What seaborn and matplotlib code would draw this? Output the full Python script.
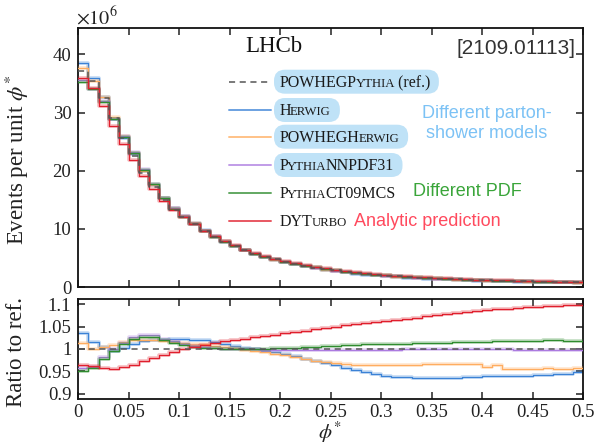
import numpy as np
import pandas as pd
import matplotlib
matplotlib.use("Agg")
import matplotlib.pyplot as plt
import matplotlib.transforms as mtransforms
from matplotlib.patches import FancyBboxPatch
from matplotlib.lines import Line2D
from matplotlib.ticker import FixedLocator, FuncFormatter
import seaborn as sns

# ---------------- data ----------------
phi_edges = [0.00, 0.01, 0.02, 0.03, 0.04, 0.05, 0.06, 0.07, 0.08, 0.09,
             0.10, 0.11, 0.12, 0.13, 0.14, 0.15, 0.16, 0.17, 0.18, 0.19,
             0.20, 0.21, 0.22, 0.23, 0.24, 0.25, 0.26, 0.27, 0.28, 0.29,
             0.30, 0.31, 0.32, 0.33, 0.34, 0.35, 0.36, 0.37, 0.38, 0.39,
             0.40, 0.41, 0.42, 0.43, 0.44, 0.45, 0.46, 0.47, 0.48, 0.49, 0.50]

# reference POWHEG+Pythia, events per unit phi* (x 10^6)
ref_events = [37.2, 35.5, 32.5, 29.0, 25.6, 22.6, 19.6, 17.2, 15.0, 13.3, 12.0, 10.8, 9.6,
              8.6, 7.8, 7.0, 6.3, 5.7, 5.2, 4.75, 4.35, 3.98, 3.65, 3.35, 3.08,
              2.84, 2.62, 2.43, 2.26, 2.10, 1.96, 1.83, 1.72, 1.62, 1.53, 1.45, 1.38, 1.31,
              1.25, 1.19, 1.14, 1.09, 1.04, 1.00, 0.96, 0.92, 0.89, 0.86, 0.83, 0.80]

ratio_herwig = [1.035, 1.015, 1.004, 0.996, 1.003, 1.011, 1.017, 1.019, 1.021, 1.022, 1.022, 1.021, 1.019,
                1.016, 1.011, 1.006, 1.002, 0.999, 0.996, 0.992, 0.988, 0.983, 0.978, 0.973, 0.968,
                0.963, 0.958, 0.953, 0.948, 0.944, 0.940, 0.937, 0.936, 0.935, 0.935, 0.935, 0.935, 0.935,
                0.936, 0.937, 0.939, 0.939, 0.939, 0.939, 0.940, 0.941, 0.941, 0.944, 0.944, 0.948]

ratio_powheg_herwig = [1.013, 1.000, 1.004, 1.008, 1.015, 1.019, 1.021, 1.020, 1.018, 1.016, 1.014, 1.012, 1.010,
                       1.007, 1.004, 1.001, 0.998, 0.995, 0.992, 0.989, 0.986, 0.982, 0.978, 0.974, 0.971,
                       0.968, 0.966, 0.965, 0.965, 0.965, 0.965, 0.965, 0.965, 0.965, 0.966, 0.966, 0.966, 0.966,
                       0.966, 0.966, 0.959, 0.965, 0.956, 0.956, 0.956, 0.954, 0.958, 0.955, 0.955, 0.957]

ratio_nnpdf31 = [0.958, 0.960, 0.982, 0.999, 1.014, 1.027, 1.032, 1.030, 1.023, 1.017, 1.011, 1.007, 1.004,
                 1.002, 1.000, 0.999, 0.999, 0.999, 0.998, 0.998, 0.997, 0.997, 0.997, 0.997, 0.997,
                 0.997, 0.997, 0.998, 0.998, 0.998, 0.998, 0.998, 0.999, 0.999, 0.999, 0.999, 0.999, 0.999,
                 0.999, 0.999, 0.999, 0.999, 0.999, 0.998, 0.998, 0.998, 0.998, 0.998, 0.998, 0.998]

ratio_ct09mcs = [0.950, 0.958, 0.978, 0.996, 1.010, 1.022, 1.027, 1.026, 1.020, 1.014, 1.008, 1.004, 1.002,
                 1.001, 1.000, 0.999, 0.999, 1.000, 1.000, 1.001, 1.002, 1.003, 1.004, 1.005, 1.006,
                 1.007, 1.008, 1.009, 1.010, 1.011, 1.011, 1.012, 1.012, 1.013, 1.013, 1.014, 1.014, 1.015,
                 1.015, 1.016, 1.016, 1.017, 1.017, 1.018, 1.018, 1.018, 1.019, 1.019, 1.018, 1.018]

ratio_dyturbo = [0.965, 0.962, 0.957, 0.955, 0.959, 0.965, 0.972, 0.980, 0.987, 0.993, 0.999, 1.004, 1.008,
                 1.013, 1.017, 1.020, 1.023, 1.026, 1.029, 1.032, 1.035, 1.038, 1.041, 1.044, 1.047,
                 1.050, 1.053, 1.056, 1.059, 1.061, 1.063, 1.065, 1.068, 1.070, 1.073, 1.075, 1.077, 1.080,
                 1.082, 1.084, 1.087, 1.089, 1.090, 1.092, 1.093, 1.094, 1.095, 1.096, 1.098, 1.099]

model_names = ["Herwig", "POWHEGHerwig", "PythiaNNPDF31", "PythiaCT09MCS", "DYTurbo"]
model_ratios = [ratio_herwig, ratio_powheg_herwig, ratio_nnpdf31, ratio_ct09mcs, ratio_dyturbo]
model_colors = ["#3b82d6", "#ffad60", "#ac7be0", "#2f8c2f", "#e01f2d"]

y_ticks_top = [0, 10, 20, 30, 40]
y_ticks_ratio = [0.9, 0.95, 1.0, 1.05, 1.1]
x_ticks = [0, 0.05, 0.1, 0.15, 0.2, 0.25, 0.3, 0.35, 0.4, 0.45, 0.5]

# ---------------- style ----------------
sns.set_theme(style="ticks")
plt.rcParams["font.family"] = ["Liberation Serif", "DejaVu Serif"]
plt.rcParams["mathtext.fontset"] = "stix"
plt.rcParams["axes.linewidth"] = 1.3

W, H = 597, 446
fig = plt.figure(figsize=(W / 100, H / 100), dpi=100)
fig.patch.set_facecolor("white")

def px_axes(x0, y0, x1, y1):
    return fig.add_axes([x0 / W, 1 - y1 / H, (x1 - x0) / W, (y1 - y0) / H])

ax1 = px_axes(78.3, 28.3, 583.3, 287.0)
ax2 = px_axes(78.3, 299.3, 583.3, 398.5)

edges = np.array(phi_edges)
ref = np.array(ref_events)

def stairs_df(vals):
    v = list(vals) + [vals[-1]]
    return pd.DataFrame({"phi": edges, "val": v})

def draw_series(ax, vals, color, dashed=False, z=2):
    df = stairs_df(vals)
    if dashed:
        sns.lineplot(data=df, x="phi", y="val", ax=ax, color="#555555", lw=1.1,
                     drawstyle="steps-post", estimator=None, sort=False,
                     linestyle=(0, (4, 3)), zorder=z + 5)
    else:
        sns.lineplot(data=df, x="phi", y="val", ax=ax, color=color, lw=2.6, alpha=0.3,
                     drawstyle="steps-post", estimator=None, sort=False, zorder=z)
        sns.lineplot(data=df, x="phi", y="val", ax=ax, color=color, lw=0.9,
                     drawstyle="steps-post", estimator=None, sort=False, zorder=z + 0.5)

for i, (r, c) in enumerate(zip(model_ratios, model_colors)):
    draw_series(ax1, ref * np.array(r), c, z=2 + i)
    draw_series(ax2, np.array(r), c, z=2 + i)
draw_series(ax1, ref, None, dashed=True)
draw_series(ax2, ref / ref, None, dashed=True)

for ax in (ax1, ax2):
    ax.set_xlim(0, 0.5)
    ax.set_xlabel("")
    ax.set_ylabel("")
    ax.tick_params(direction="in", top=True, right=True, length=5, width=1.1,
                   labelsize=13.5, colors="#222222", pad=5)
    ax.xaxis.set_major_locator(FixedLocator(x_ticks))
    for s in ax.spines.values():
        s.set_color("#111111")
        s.set_linewidth(1.3)
ax2.tick_params(axis="x", pad=4)

ax1.set_ylim(0, 44.5)
ax1.yaxis.set_major_locator(FixedLocator(y_ticks_top))
ax1.tick_params(labelbottom=False)
ax2.set_ylim(0.889, 1.111)
ax2.yaxis.set_major_locator(FixedLocator(y_ticks_ratio))
fmt = FuncFormatter(lambda v, p: f"{v:g}")
ax2.yaxis.set_major_formatter(fmt)
ax2.xaxis.set_major_formatter(fmt)

# axis labels
fig.text(17 / W, 1 - 160 / H, r"Events per unit $\phi^{*}$", rotation=90,
         ha="center", va="center", fontsize=16.5, color="#222222")
fig.text(17 / W, 1 - 352 / H, "Ratio to ref.", rotation=90,
         ha="center", va="center", fontsize=16.5, color="#222222")
fig.text(330 / W, 1 - 439 / H, r"$\phi^{*}$", ha="center", va="baseline",
         fontsize=15, color="#222222")
fig.text(76 / W, 1 - 24 / H, r"$\times10^{6}$", ha="left", va="baseline",
         fontsize=14.5, color="#222222")

# annotations in top panel (axes fractions)
def ax_xy(px, py):
    return ((px - 78.3) / 505.0, (287.0 - py) / 258.7)

ax1.text(*ax_xy(245, 46), "LHCb", ha="left", va="center", fontsize=16.5,
         color="#111111", transform=ax1.transAxes)
ax1.text(*ax_xy(576, 48), "[2109.01113]", ha="right", va="center", fontsize=15,
         family="Liberation Sans", color="#333333", transform=ax1.transAxes)
ax1.text(*ax_xy(487, 113), "Different parton-", ha="center", va="center",
         fontsize=13, family="Liberation Sans", color="#7cc2f5", transform=ax1.transAxes)
ax1.text(*ax_xy(487, 134), "shower models", ha="center", va="center",
         fontsize=13, family="Liberation Sans", color="#7cc2f5", transform=ax1.transAxes)
ax1.text(*ax_xy(413, 192), "Different PDF", ha="left", va="center",
         fontsize=13, family="Liberation Sans", color="#3aa53a", transform=ax1.transAxes)
ax1.text(*ax_xy(354, 221), "Analytic prediction", ha="left", va="center",
         fontsize=13, family="Liberation Sans", color="#ff4a5e", transform=ax1.transAxes)

# legend (manual, with small caps)
renderer = fig.canvas.get_renderer()
legend_rows = [
    ([("POWHEGP", False), ("YTHIA", True), (" (ref.)", False)], "#555555", True, True),
    ([("H", False), ("ERWIG", True)], model_colors[0], False, True),
    ([("POWHEGH", False), ("ERWIG", True)], model_colors[1], False, True),
    ([("P", False), ("YTHIA", True), ("NNPDF31", False)], model_colors[2], False, True),
    ([("P", False), ("YTHIA", True), ("CT09MCS", False)], model_colors[3], False, False),
    ([("DYT", False), ("URBO", True)], model_colors[4], False, False),
]
row_py = [81.7, 110.0, 136.7, 165.0, 193.3, 220.7]
fs = 11.5
sc = 0.8
for (pieces, col, dashed, boxed), py in zip(legend_rows, row_py):
    lx0, ly = ax_xy(229, py)
    lx1, _ = ax_xy(271, py)
    if dashed:
        ln = Line2D([lx0, lx1], [ly, ly], transform=ax1.transAxes, color=col, lw=1.1,
                    linestyle=(0, (4, 3)))
    else:
        ln = Line2D([lx0, lx1], [ly, ly], transform=ax1.transAxes, color=col, lw=1.4,
                    alpha=0.75)
    ax1.add_line(ln)
    tx, _ = ax_xy(280, py)
    base_y = ly - 5.2 / 258.7
    dx = 0.0
    bbs = []
    for s, small in pieces:
        tr = mtransforms.offset_copy(ax1.transAxes, fig=fig, x=dx, y=0, units="points")
        t = ax1.text(tx, base_y, s, transform=tr, fontsize=fs * (sc if small else 1.0),
                     ha="left", va="baseline", color="#1a1a1a", zorder=20)
        bb = t.get_window_extent(renderer=renderer)
        bbs.append(bb)
        dx += (bb.width - 1.5) * 72.0 / fig.dpi
    if boxed:
        x0 = min(b.x0 for b in bbs) - 6
        x1 = max(b.x1 for b in bbs) + 9
        yc = ax1.transAxes.transform((0, ly))[1]
        h = 24
        patch = FancyBboxPatch((x0, yc - h / 2), x1 - x0, h,
                               boxstyle="round,pad=0,rounding_size=11",
                               transform=mtransforms.IdentityTransform(),
                               facecolor="#bfe2f7", edgecolor="none", zorder=15,
                               clip_on=False)
        ax1.add_patch(patch)

fig.savefig("out.png", dpi=100)
